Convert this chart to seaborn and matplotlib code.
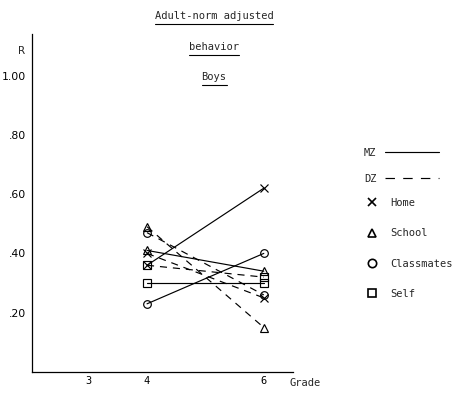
import matplotlib
matplotlib.use("Agg")
import matplotlib.pyplot as plt
from matplotlib.lines import Line2D
import seaborn as sns
import pandas as pd

# ---- data ----
grades = [4, 6]
measures = ["Home", "School", "Classmates", "Self"]
markers = {"Home": "x", "School": "^", "Classmates": "o", "Self": "s"}
mz_home = [0.36, 0.62]
mz_school = [0.41, 0.34]
mz_classmates = [0.23, 0.40]
mz_self = [0.30, 0.30]
dz_home = [0.40, 0.25]
dz_school = [0.49, 0.15]
dz_classmates = [0.47, 0.26]
dz_self = [0.36, 0.32]
x_ticks = [3, 4, 6]
y_ticks = [0.20, 0.40, 0.60, 0.80, 1.00]
y_tick_labels = [".20", ".40", ".60", ".80", "1.00"]
title_lines = ["Adult-norm adjusted", "behavior", "Boys"]

series = {
    ("MZ", "Home"): mz_home, ("MZ", "School"): mz_school,
    ("MZ", "Classmates"): mz_classmates, ("MZ", "Self"): mz_self,
    ("DZ", "Home"): dz_home, ("DZ", "School"): dz_school,
    ("DZ", "Classmates"): dz_classmates, ("DZ", "Self"): dz_self,
}
rows = []
for (tw, m), vals in series.items():
    for g, v in zip(grades, vals):
        rows.append({"twin": tw, "measure": m, "grade": g, "R": v})
df = pd.DataFrame(rows)

sns.set_theme(style="white")
plt.rcParams["font.family"] = ["DejaVu Sans Mono", "DejaVu Sans"]

fig = plt.figure(figsize=(4.55, 3.95), dpi=100)
ax = fig.add_axes([32/455, 23/395, 261/455, 338/395])

dash = (0, (6, 5))
for (tw, m), sub in df.groupby(["twin", "measure"]):
    sns.lineplot(data=sub, x="grade", y="R", ax=ax, color="black",
                 linewidth=0.85, marker=markers[m], markersize=5.5,
                 markerfacecolor="none" if m != "Home" else "black",
                 markeredgecolor="black", markeredgewidth=0.85,
                 linestyle="-" if tw == "MZ" else dash, legend=False)

ax.set_xlim(2.03, 6.5)
ax.set_ylim(0, 1.14)
ax.set_xticks(x_ticks)
ax.set_xticklabels([str(t) for t in x_ticks], fontsize=7.5)
ax.set_yticks(y_ticks)
ax.set_yticklabels(y_tick_labels, fontsize=7.8, family="DejaVu Sans")
ax.tick_params(axis="both", direction="in", length=2.5, width=0.7,
               colors="black", pad=3)
ax.tick_params(axis="y", pad=4)
ax.set_xlabel("")
ax.set_ylabel("")
for s in ["top", "right"]:
    ax.spines[s].set_visible(False)
for s in ["left", "bottom"]:
    ax.spines[s].set_color("black")
    ax.spines[s].set_linewidth(0.9)

fig.text(22/455, 1 - 51/395, "R", fontsize=7.5, ha="center", va="center",
         family="DejaVu Sans")
fig.text(305/455, 1 - 383/395, "Grade", fontsize=7.5, ha="center", va="center")

# title with underlines
title_y = [16, 47, 77]
texts = []
for t, yy in zip(title_lines, title_y):
    texts.append(fig.text(214/455, 1 - yy/395, t, fontsize=7.5,
                          ha="center", va="center"))

# legends
lh1 = [Line2D([], [], color="black", lw=0.85, linestyle="-"),
       Line2D([], [], color="black", lw=0.85, linestyle=(0, (8, 7)))]
leg1 = fig.legend(lh1, ["MZ", "DZ"], loc="upper left",
                  bbox_to_anchor=(364/455, 1 - 148/395), frameon=False,
                  markerfirst=False, handlelength=5.2, handletextpad=0.8,
                  labelspacing=1.55, fontsize=7.5, borderpad=0, borderaxespad=0)
lh2 = [Line2D([], [], color="black", lw=0, marker=markers[m], markersize=6,
              markerfacecolor="none", markeredgecolor="black",
              markeredgewidth=1.2) for m in measures]
leg2 = fig.legend(lh2, measures, loc="upper left",
                  bbox_to_anchor=(366/455, 1 - 198/395), frameon=False,
                  handlelength=1.2, handletextpad=1.1, labelspacing=1.95,
                  fontsize=7.5, borderpad=0, borderaxespad=0)

fig.canvas.draw()
r = fig.canvas.get_renderer()
inv = fig.transFigure.inverted()
for t in texts:
    bb = t.get_window_extent(r)
    (x0, y0), (x1, y1) = inv.transform([[bb.x0, bb.y0], [bb.x1, bb.y1]])
    fig.add_artist(Line2D([x0, x1], [y0 - 3/395, y0 - 3/395],
                          color="black", lw=0.8))

fig.savefig("out.png", dpi=100)
